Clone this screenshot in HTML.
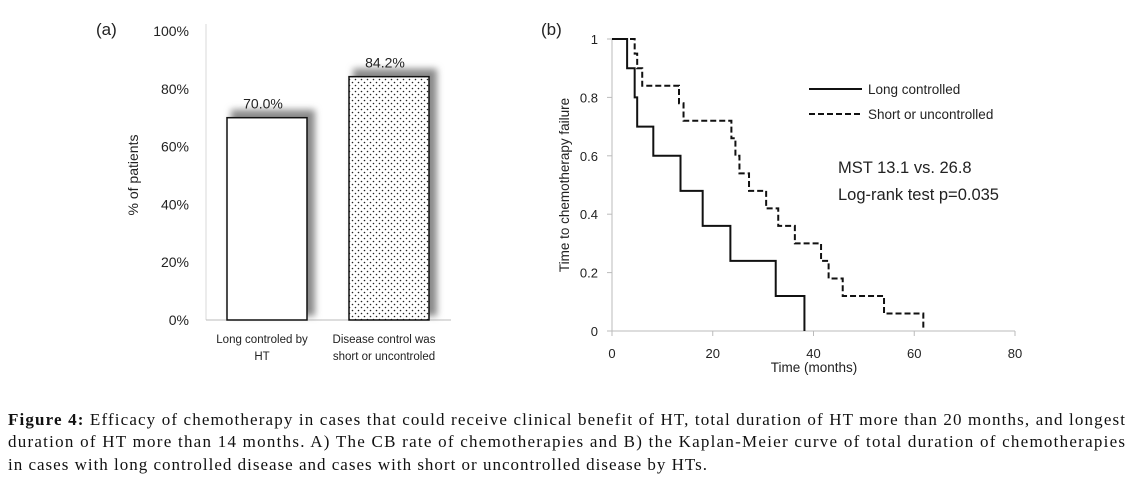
<!DOCTYPE html>
<html><head><meta charset="utf-8"><style>
html,body{margin:0;padding:0;background:#fff;}
svg{display:block;}
text{font-family:"Liberation Sans",sans-serif;fill:#222;}
.cap{font-family:"Liberation Serif",serif;font-size:17px;fill:#111;}
</style></head><body>
<svg id="fig" width="1131" height="486" viewBox="0 0 1131 486">
<defs>
<pattern id="dots" width="6" height="6" patternUnits="userSpaceOnUse"><rect width="6" height="6" fill="#fff"/><circle cx="1.5" cy="1.5" r="0.8" fill="#222"/><circle cx="4.5" cy="4.5" r="0.8" fill="#222"/></pattern>
<filter id="blur" x="-20%" y="-20%" width="140%" height="140%"><feGaussianBlur stdDeviation="3.5"/></filter>
</defs>
<g id="chartA"></g>
<g id="chartB"></g>
<g>
<text class="cap" x="8" y="425" textLength="1117" lengthAdjust="spacing"><tspan font-weight="bold">Figure 4:</tspan> Efficacy of chemotherapy in cases that could receive clinical benefit of HT, total duration of HT more than 20 months, and longest</text>
<text class="cap" x="8" y="447" textLength="1117" lengthAdjust="spacing">duration of HT more than 14 months. A) The CB rate of chemotherapies and B) the Kaplan-Meier curve of total duration of chemotherapies</text>
<text class="cap" x="8" y="470" textLength="699" lengthAdjust="spacing">in cases with long controlled disease and cases with short or uncontrolled disease by HTs.</text>
</g>
</svg>
<script>
const NS="http://www.w3.org/2000/svg";
function mk(p,tag,at,txt){const e=document.createElementNS(NS,tag);for(const k in at)e.setAttribute(k,at[k]);if(txt!==undefined)e.textContent=txt;p.appendChild(e);return e;}
// Chart A data
const barCats=[["Long controled by","HT"],["Disease control was","short or uncontroled"]];
const barVals=[70.0,84.2];
const barLabels=["70.0%","84.2%"];
const yTicksA=[0,20,40,60,80,100];
// Chart B data
const longT=[0,3,4.5,5,8.2,13.6,18,23.5,32.5,38.2];
const longS=[1,0.9,0.8,0.7,0.6,0.48,0.36,0.24,0.12,0];
const shortT=[0,4.5,5,6,13.3,14.2,23.7,24.5,25.3,27.2,30.6,33,36.3,41.5,43,45.8,54,61.8];
const shortS=[1,0.95,0.9,0.84,0.78,0.72,0.66,0.6,0.54,0.48,0.42,0.36,0.3,0.24,0.18,0.12,0.06,0.01];
const xTicksB=[0,20,40,60,80];
const yTicksB=[0,0.2,0.4,0.6,0.8,1];

// ---- Chart A
const A=document.getElementById('chartA');
const ay=v=>320-v*2.89;
const bx=[227,349], bw=80;
let t=mk(A,'text',{x:96,y:35,'font-size':17},'(a)');


let l=mk(A,'line',{x1:206,y1:24,x2:206,y2:320,stroke:'#d8d8d8'});


l=mk(A,'line',{x1:206,y1:320,x2:451,y2:320,stroke:'#bbb'});


yTicksA.forEach(v=>{
  const e=mk(A,'text',{x:189,y:ay(v)+5,'font-size':14,'text-anchor':'end'},v+'%');
  
  
});
t=mk(A,'text',{transform:'translate(138,175) rotate(-90)','font-size':14,'text-anchor':'middle'},'% of patients');


barVals.forEach((v,i)=>{
  const top=ay(v);
  const s=mk(A,'rect',{x:bx[i]+4,y:top-8,width:bw+4,height:320-top+4,fill:'#8a8a8a',filter:'url(#blur)'});
  
  
  const r=mk(A,'rect',{x:bx[i],y:top,width:bw,height:320-top,fill:i?'url(#dots)':'#fff',stroke:'#111','stroke-width':1.5});
  
  
  const lb=mk(A,'text',{x:bx[i]+bw/2-4,y:top-9,'font-size':14,'text-anchor':'middle'},barLabels[i]);
  
  
  barCats[i].forEach((c,j)=>{
    const ce=mk(A,'text',{x:bx[i]+bw/2-5,y:343+j*17,'font-size':11.5,'text-anchor':'middle'},c);
    
    
  });
});

// ---- Chart B
const B=document.getElementById('chartB');
const bxs=m=>612+m*5.0375, bys=s=>331-s*292;
t=mk(B,'text',{x:541,y:35,'font-size':17},'(b)');


l=mk(B,'line',{x1:612,y1:bys(1),x2:612,y2:331,stroke:'#bbb'});


l=mk(B,'line',{x1:612,y1:331,x2:1015,y2:331,stroke:'#bbb'});


yTicksB.forEach(v=>{
  const tk=mk(B,'line',{x1:607,y1:bys(v),x2:612,y2:bys(v),stroke:'#bbb'});
  
  
  const e=mk(B,'text',{x:598,y:bys(v)+5,'font-size':13,'text-anchor':'end'},String(v));
  
  
});
xTicksB.forEach(v=>{
  const tk=mk(B,'line',{x1:bxs(v),y1:331,x2:bxs(v),y2:336,stroke:'#bbb'});
  
  
  const e=mk(B,'text',{x:bxs(v),y:358,'font-size':13,'text-anchor':'middle'},String(v));
  
  
});
t=mk(B,'text',{x:814,y:372,'font-size':13.5,'text-anchor':'middle'},'Time (months)');


t=mk(B,'text',{transform:'translate(569,185) rotate(-90)','font-size':13.5,'text-anchor':'middle'},'Time to chemotherapy failure');


function stepPath(T,S){
  let d='M'+bxs(T[0])+','+bys(S[0]);
  for(let i=1;i<T.length;i++){d+=' H'+bxs(T[i])+' V'+bys(S[i]);}
  return d;
}
let p=mk(B,'path',{d:stepPath(shortT,shortS),fill:'none',stroke:'#111','stroke-width':2,'stroke-dasharray':'6,3'});


p=mk(B,'path',{d:stepPath(longT,longS),fill:'none',stroke:'#111','stroke-width':2});


const lg=mk(B,'g',{});


l=mk(lg,'line',{x1:809,y1:89,x2:862,y2:89,stroke:'#111','stroke-width':2});


t=mk(lg,'text',{x:868,y:94,'font-size':13.5},'Long controlled');


l=mk(lg,'line',{x1:809,y1:114,x2:862,y2:114,stroke:'#111','stroke-width':2,'stroke-dasharray':'6,3'});


t=mk(lg,'text',{x:868,y:119,'font-size':13.5},'Short or uncontrolled');


t=mk(B,'text',{x:838,y:173,'font-size':16.5},'MST 13.1 vs. 26.8');


t=mk(B,'text',{x:838,y:200,'font-size':16.5},'Log-rank test p=0.035');


</script>
</body></html>
